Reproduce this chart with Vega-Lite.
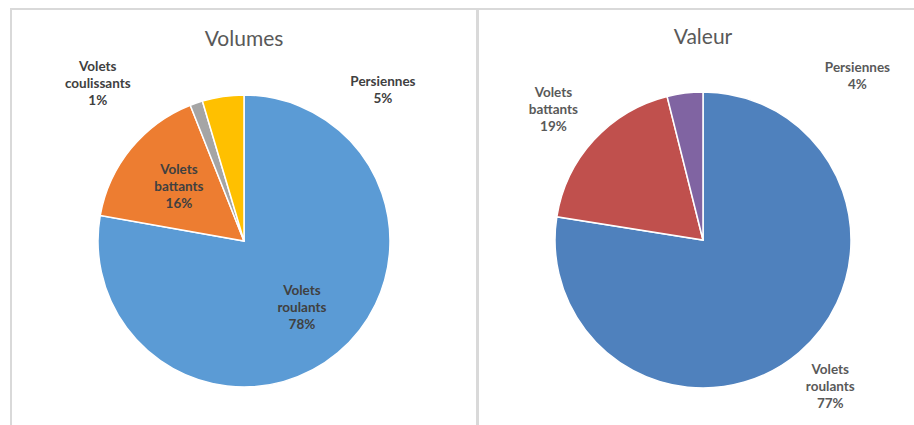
{
  "$schema": "https://vega.github.io/schema/vega-lite/v6.json",
  "padding": {"left": 10, "top": 8, "right": -13, "bottom": -47},
  "spacing": 1,
  "bounds": "flush",
  "background": "white",
  "config": {
    "title": {"font": "Lato", "fontSize": 21, "fontWeight": "normal", "color": "#595959", "anchor": "middle", "baseline": "alphabetic"},
    "text": {"font": "Lato", "fontSize": 13.5, "fontWeight": "bold", "lineBreak": "\n", "lineHeight": 17, "align": "center", "baseline": "middle"}
  },
  "datasets": {
    "volumes": [
      {"categorie": "Volets roulants", "part": 77.8, "rang": 1, "etiquette": "Volets\nroulants\n78%"},
      {"categorie": "Volets battants", "part": 16.2, "rang": 2, "etiquette": "Volets\nbattants\n16%"},
      {"categorie": "Volets coulissants", "part": 1.4, "rang": 3, "etiquette": "Volets\ncoulissants\n1%"},
      {"categorie": "Persiennes", "part": 4.6, "rang": 4, "etiquette": "Persiennes\n5%"}
    ],
    "valeur": [
      {"categorie": "Volets roulants", "part": 77.5, "rang": 1, "etiquette": "Volets\nroulants\n77%"},
      {"categorie": "Volets battants", "part": 18.6, "rang": 2, "etiquette": "Volets\nbattants\n19%"},
      {"categorie": "Persiennes", "part": 3.9, "rang": 3, "etiquette": "Persiennes\n4%"}
    ]
  },
  "resolve": {"scale": {"color": "independent", "theta": "independent"}},
  "hconcat": [
    {
      "width": 466,
      "height": 464,
      "view": {"stroke": "#d9d9d9", "strokeWidth": 2},
      "title": {"text": "Volumes", "offset": -41},
      "data": {"name": "volumes"},
      "encoding": {
        "theta": {"field": "part", "type": "quantitative", "stack": true},
        "order": {"field": "rang", "type": "quantitative"}
      },
      "layer": [
        {
          "mark": {"type": "arc", "outerRadius": 146, "stroke": "white", "strokeWidth": 1.5},
          "encoding": {
            "color": {
              "field": "categorie", "type": "nominal", "legend": null,
              "scale": {"domain": ["Volets roulants", "Volets battants", "Volets coulissants", "Persiennes"],
                        "range": ["#5B9BD5", "#ED7D31", "#A5A5A5", "#FFC000"]}
            }
          }
        },
        {
          "mark": {"type": "text", "radius": 84, "dx": 4, "dy": -14, "color": "#404040"},
          "encoding": {
            "text": {"condition": {"test": "datum.categorie == 'Volets roulants'", "field": "etiquette"}, "value": ""}
          }
        },
        {
          "mark": {"type": "text", "radius": 84, "dy": -18, "color": "#404040"},
          "encoding": {
            "text": {"condition": {"test": "datum.categorie == 'Volets battants'", "field": "etiquette"}, "value": ""}
          }
        },
        {
          "mark": {"type": "text", "radius": 175, "dx": -89, "dy": -9, "color": "#404040"},
          "encoding": {
            "text": {"condition": {"test": "datum.categorie == 'Volets coulissants'", "field": "etiquette"}, "value": ""}
          }
        },
        {
          "mark": {"type": "text", "radius": 160, "dx": 162, "dy": -1, "color": "#404040"},
          "encoding": {
            "text": {"condition": {"test": "datum.categorie == 'Persiennes'", "field": "etiquette"}, "value": ""}
          }
        }
      ]
    },
    {
      "width": 450,
      "height": 462,
      "view": {"stroke": "#d9d9d9", "strokeWidth": 2},
      "title": {"text": "Valeur", "offset": -39},
      "data": {"name": "valeur"},
      "encoding": {
        "theta": {"field": "part", "type": "quantitative", "stack": true},
        "order": {"field": "rang", "type": "quantitative"}
      },
      "layer": [
        {
          "mark": {"type": "arc", "outerRadius": 148, "stroke": "white", "strokeWidth": 1.5},
          "encoding": {
            "color": {
              "field": "categorie", "type": "nominal", "legend": null,
              "scale": {"domain": ["Volets roulants", "Volets battants", "Persiennes"],
                        "range": ["#4F81BD", "#C0504D", "#8064A2"]}
            }
          }
        },
        {
          "mark": {"type": "text", "radius": 196, "dy": -19, "color": "#595959"},
          "encoding": {
            "text": {"condition": {"test": "datum.categorie == 'Volets roulants'", "field": "etiquette"}, "value": ""}
          }
        },
        {
          "mark": {"type": "text", "radius": 196, "dx": -5, "dy": -15, "color": "#595959"},
          "encoding": {
            "text": {"condition": {"test": "datum.categorie == 'Volets battants'", "field": "etiquette"}, "value": ""}
          }
        },
        {
          "mark": {"type": "text", "radius": 160, "dx": 174, "dy": -13, "color": "#595959"},
          "encoding": {
            "text": {"condition": {"test": "datum.categorie == 'Persiennes'", "field": "etiquette"}, "value": ""}
          }
        }
      ]
    }
  ]
}
